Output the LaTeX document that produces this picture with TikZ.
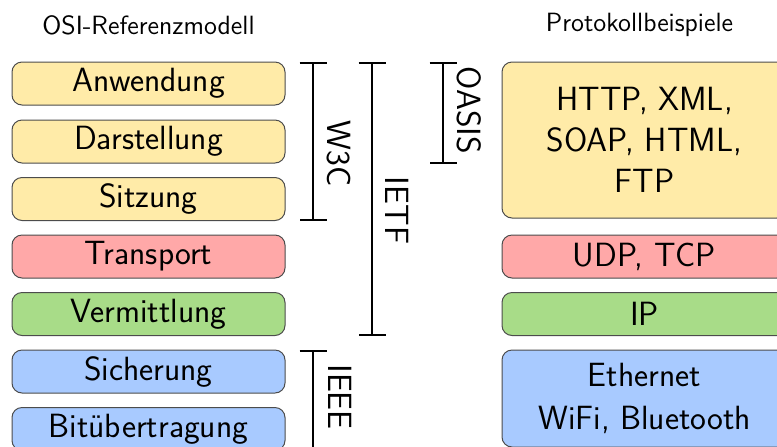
\documentclass[tikz,border=0pt]{standalone}
\usepackage{fontspec}
\usetikzlibrary{arrows.meta}

\definecolor{appyellow}{HTML}{FFEBA8}
\definecolor{transred}{HTML}{FFA8A8}
\definecolor{netgreen}{HTML}{A8DC88}
\definecolor{linkblue}{HTML}{A8CAFF}

\tikzset{
  layer/.style={draw=black!70, line width=0.5pt, rounded corners=5pt,
    minimum width=136.5pt, minimum height=21.5pt, inner sep=0pt,
    align=center, font=\sffamily\fontsize{16.8}{20.5}\selectfont},
  proto/.style={layer, minimum width=142.5pt},
  heading/.style={font=\sffamily\fontsize{13.2}{15}\selectfont},
  bracket/.style={line width=1pt, arrows={Bar[width=13.5pt]-Bar[width=13.5pt]}},
  orglabel/.style={rotate=-90, inner sep=0pt, font=\sffamily\fontsize{16.8}{18}\selectfont},
}

\begin{document}
\begin{tikzpicture}[x=0.5pt, y=-0.5pt]
    \clip (0,0) rectangle (777,446);

    % OSI layers
    \node[heading] (osi) at (148.5,25) {OSI-Referenzmodell};
    \node[layer, fill=appyellow] (anw) at (148.5,83.5) {Anwendung};
    \node[layer, fill=appyellow] (dar) at (148.5,141.5) {Darstellung};
    \node[layer, fill=appyellow] (sit) at (148.5,199) {Sitzung};
    \node[layer, fill=transred] (tra) at (148.5,256.5) {Transport};
    \node[layer, fill=netgreen] (ver) at (148.5,314) {Vermittlung};
    \node[layer, fill=linkblue] (sic) at (148.5,371.5) {Sicherung};
    \node[layer, fill=linkblue] (bit) at (148.5,429) {Bitübertragung};

    % protocol examples
    \node[heading] (bsp) at (639.5,25) {Protokollbeispiele};
    \node[proto, fill=appyellow, minimum height=78pt] (app) at (644.5,140)
        {HTTP, XML,\\SOAP, HTML,\\FTP};
    \node[proto, fill=transred] (udp) at (644.5,256.5) {UDP, TCP};
    \node[proto, fill=netgreen] (ip) at (644.5,314) {IP};
    \node[proto, fill=linkblue, minimum height=48.5pt,
        font=\sffamily\fontsize{16.8}{21.5}\selectfont] (eth) at (644.5,398.5)
        {Ethernet\\WiFi, Bluetooth};

    % standard bodies
    \coordinate (w3c) at (313,0);
    \coordinate (ietf) at (372,0);
    \coordinate (oasis) at (443,0);
    \coordinate (ieee) at (313,0);

    \draw[bracket] (anw.north -| w3c) -- (sit.south -| w3c);
    \draw[bracket] (anw.north -| ietf) -- (ver.south -| ietf);
    \draw[bracket] (anw.north -| oasis) -- (dar.south -| oasis);
    \draw[bracket] (sic.north -| ieee) -- (bit.south -| ieee);

    \node[orglabel] (w3clbl) at (339,153.5) {W3C};
    \node[orglabel] (ietflbl) at (397,210.5) {IETF};
    \node[orglabel] (oasislbl) at (469.5,110.5) {OASIS};
    \node[orglabel] (ieeelbl) at (340,397) {IEEE};
\end{tikzpicture}
\end{document}
